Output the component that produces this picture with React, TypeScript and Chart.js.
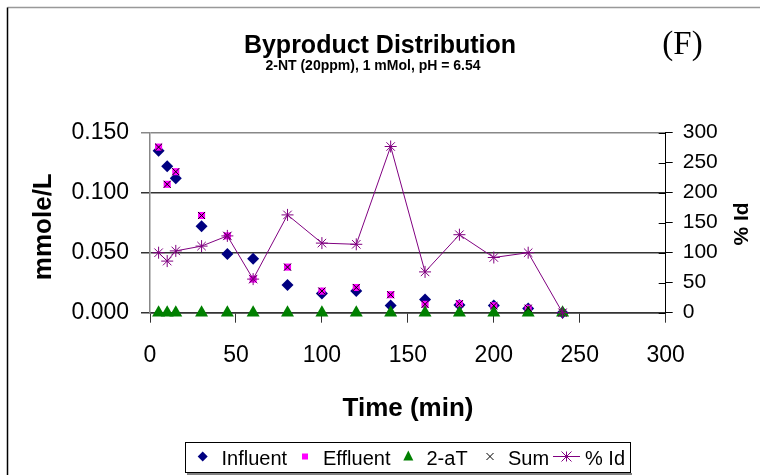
import React, { useEffect, useRef } from "react";
import { Chart, registerables } from "chart.js";

Chart.register(...registerables);

const times = [5, 10, 15, 30, 45, 60, 80, 100, 120, 140, 160, 180, 200, 220, 240];
const influent = [0.135, 0.122, 0.112, 0.072, 0.049, 0.045, 0.023, 0.016, 0.018, 0.006, 0.011, 0.0065, 0.006, 0.0035, 0.0];
const effluent = [0.138, 0.107, 0.1175, 0.081, 0.064, 0.028, 0.038, 0.018, 0.021, 0.015, 0.007, 0.0075, 0.0058, 0.0037, 0.0];
const aT2 = [0, 0, 0, 0, 0, 0, 0, 0, 0, 0, 0, 0, 0, 0, 0];
const sumVals = [0.138, 0.107, 0.1175, 0.081, 0.064, 0.028, 0.038, 0.018, 0.021, 0.015, 0.007, 0.0075, 0.0058, 0.0037, 0.0];
const pctId = [100, 86, 103, 111, 128, 56, 163, 116, 114, 277, 68, 130, 92, 100, 0];

const title = "Byproduct Distribution";
const subtitle = "2-NT (20ppm), 1 mMol, pH = 6.54";
const panelLabel = "(F)";
const xTitle = "Time (min)";
const yTitle = "mmole/L";
const y2Title = "% Id";
const legendLabels = ["Influent", "Effluent", "2-aT", "Sum", "% Id"];

const SANS = "'Liberation Sans', Arial, sans-serif";
const SERIF = "'Liberation Serif', 'Times New Roman', serif";

const toXY = (vals: number[]) => vals.map((v, i) => ({ x: times[i], y: v }));

const decorPlugin = {
  id: "decor",
  afterDraw(chart: any) {
    const ctx = chart.ctx as CanvasRenderingContext2D;
    const area = chart.chartArea;
    ctx.save();
    // frame
    ctx.lineWidth = 1.5;
    ctx.strokeStyle = "#999";
    ctx.beginPath();
    ctx.moveTo(7.5, 7.5);
    ctx.lineTo(760, 7.5);
    ctx.stroke();
    ctx.strokeStyle = "#000";
    ctx.beginPath();
    ctx.moveTo(7.5, 7.5);
    ctx.lineTo(7.5, 475);
    ctx.stroke();

    // right axis inner ticks
    const y2 = chart.scales.y2;
    ctx.lineWidth = 1;
    ctx.strokeStyle = "#000";
    y2.ticks.forEach((t: any) => {
      const py = Math.round(y2.getPixelForValue(t.value)) + 0.5;
      ctx.beginPath();
      ctx.moveTo(area.right - 7, py);
      ctx.lineTo(area.right, py);
      ctx.stroke();
    });

    // titles
    ctx.fillStyle = "#000";
    ctx.textAlign = "center";
    ctx.textBaseline = "alphabetic";
    ctx.font = `bold 25px ${SANS}`;
    ctx.fillText(title, 380, 53);
    ctx.font = `bold 14px ${SANS}`;
    ctx.fillText(subtitle, 373, 70);
    ctx.font = `33px ${SERIF}`;
    ctx.fillText(panelLabel, 682.5, 54);

    ctx.font = `bold 26px ${SANS}`;
    ctx.fillText(xTitle, 408, 416);

    ctx.save();
    ctx.translate(51, 226.7);
    ctx.rotate(-Math.PI / 2);
    ctx.font = `bold 26px ${SANS}`;
    ctx.fillText(yTitle, 0, 0);
    ctx.restore();

    ctx.save();
    ctx.translate(747.5, 224);
    ctx.rotate(-Math.PI / 2);
    ctx.font = `bold 21px ${SANS}`;
    ctx.fillText(y2Title, 0, 0);
    ctx.restore();

    // legend
    ctx.fillStyle = "#808080";
    ctx.fillRect(187, 473, 445, 2);
    ctx.fillStyle = "#fff";
    ctx.fillRect(185.5, 442.5, 445, 30);
    ctx.strokeStyle = "#000";
    ctx.lineWidth = 1;
    ctx.strokeRect(185.5, 442.5, 445, 30);

    const cy = 456.5;
    // diamond
    ctx.fillStyle = "#000080";
    ctx.beginPath();
    ctx.moveTo(202.7, cy - 5);
    ctx.lineTo(207.7, cy);
    ctx.lineTo(202.7, cy + 5);
    ctx.lineTo(197.7, cy);
    ctx.closePath();
    ctx.fill();
    // square
    ctx.fillStyle = "#FF00FF";
    ctx.fillRect(302, cy - 3, 6, 6);
    // triangle
    ctx.fillStyle = "#008000";
    ctx.beginPath();
    ctx.moveTo(408.3, cy - 6);
    ctx.lineTo(413.3, cy + 4);
    ctx.lineTo(403.3, cy + 4);
    ctx.closePath();
    ctx.fill();
    // x
    ctx.strokeStyle = "#000";
    ctx.lineWidth = 1;
    ctx.beginPath();
    ctx.moveTo(486.5, cy - 3.5);
    ctx.lineTo(493.5, cy + 3.5);
    ctx.moveTo(493.5, cy - 3.5);
    ctx.lineTo(486.5, cy + 3.5);
    ctx.stroke();
    // line with star
    ctx.strokeStyle = "#800080";
    ctx.beginPath();
    ctx.moveTo(553, cy);
    ctx.lineTo(580, cy);
    ctx.moveTo(566.5, cy - 5);
    ctx.lineTo(566.5, cy + 5);
    ctx.moveTo(561.5, cy - 5);
    ctx.lineTo(571.5, cy + 5);
    ctx.moveTo(571.5, cy - 5);
    ctx.lineTo(561.5, cy + 5);
    ctx.stroke();

    ctx.fillStyle = "#000";
    ctx.textAlign = "left";
    ctx.font = `20px ${SANS}`;
    const lx = [221.5, 323, 426.5, 508, 585];
    legendLabels.forEach((l, i) => ctx.fillText(l, lx[i], 465));
    ctx.restore();
  },
};

export default function App() {
  const ref = useRef<HTMLCanvasElement | null>(null);
  useEffect(() => {
    if (!ref.current) return;
    const chart = new Chart(ref.current, {
      type: "line",
      data: {
        datasets: [
          {
            label: legendLabels[0],
            data: toXY(influent),
            showLine: false,
            pointStyle: "rectRot",
            pointRadius: 6,
            backgroundColor: "#000080",
            borderColor: "#000080",
            borderWidth: 0,
            order: 5,
            clip: false,
            yAxisID: "y",
          },
          {
            label: legendLabels[1],
            data: toXY(effluent),
            showLine: false,
            pointStyle: "rect",
            pointRadius: 5,
            backgroundColor: "#FF00FF",
            borderColor: "#FF00FF",
            borderWidth: 0,
            order: 4,
            clip: false,
            yAxisID: "y",
          },
          {
            label: legendLabels[2],
            data: toXY(aT2),
            showLine: false,
            pointStyle: "triangle",
            pointRadius: 7.5,
            backgroundColor: "#008000",
            borderColor: "#008000",
            borderWidth: 0,
            order: 3,
            clip: false,
            yAxisID: "y",
          },
          {
            label: legendLabels[3],
            data: toXY(sumVals),
            showLine: false,
            pointStyle: "crossRot",
            pointRadius: 5,
            backgroundColor: "#000",
            borderColor: "#000",
            borderWidth: 1,
            order: 2,
            clip: false,
            yAxisID: "y",
          },
          {
            label: legendLabels[4],
            data: toXY(pctId),
            showLine: true,
            pointStyle: "star",
            pointRadius: 6,
            backgroundColor: "#800080",
            borderColor: "#800080",
            pointBorderColor: "#800080",
            borderWidth: 1,
            pointBorderWidth: 1,
            tension: 0,
            order: 1,
            clip: false,
            yAxisID: "y2",
          },
        ],
      },
      options: {
        animation: false,
        responsive: false,
        devicePixelRatio: 1,
        layout: { padding: { top: 132.7, left: 0, right: 0, bottom: 0 } },
        plugins: {
          legend: { display: false },
          title: { display: false },
          tooltip: { enabled: false },
        },
        scales: {
          x: {
            type: "linear",
            min: 0,
            max: 300,
            ticks: {
              stepSize: 50,
              color: "#000",
              font: { size: 23, family: SANS },
              padding: 19,
              maxRotation: 0,
            },
            grid: { drawOnChartArea: false, drawTicks: true, tickLength: 10, color: "#333" },
            border: { color: "#333", width: 1.5 },
            afterFit: (s: any) => {
              s.height = 475 - 312.7;
            },
          },
          y: {
            position: "left",
            min: 0,
            max: 0.15,
            ticks: {
              stepSize: 0.05,
              color: "#000",
              font: { size: 23, family: SANS },
              padding: 12,
              callback: (v: any) => Number(v).toFixed(3),
            },
            grid: {
              color: (c: any) => (c.tick && c.tick.value > 0.14 ? "#888" : "#333"),
              lineWidth: 1.5,
              tickLength: 9,
            },
            border: { color: "#888", width: 1.5 },
            afterFit: (s: any) => {
              s.width = 150;
            },
          },
          y2: {
            position: "right",
            min: 0,
            max: 300,
            ticks: {
              stepSize: 50,
              color: "#000",
              font: { size: 21, family: SANS },
              padding: 10,
            },
            grid: { drawOnChartArea: false, tickLength: 7, color: "#000" },
            border: { color: "#000", width: 1 },
            afterFit: (s: any) => {
              s.width = 760 - 665.7;
            },
          },
        },
      },
      plugins: [decorPlugin],
    } as any);
    return () => chart.destroy();
  }, []);
  return (
    <div style={{ position: "absolute", left: 0, top: 0, width: 760, height: 475, background: "#fff" }}>
      <canvas ref={ref} width={760} height={475} style={{ width: 760, height: 475, display: "block" }} />
    </div>
  );
}
